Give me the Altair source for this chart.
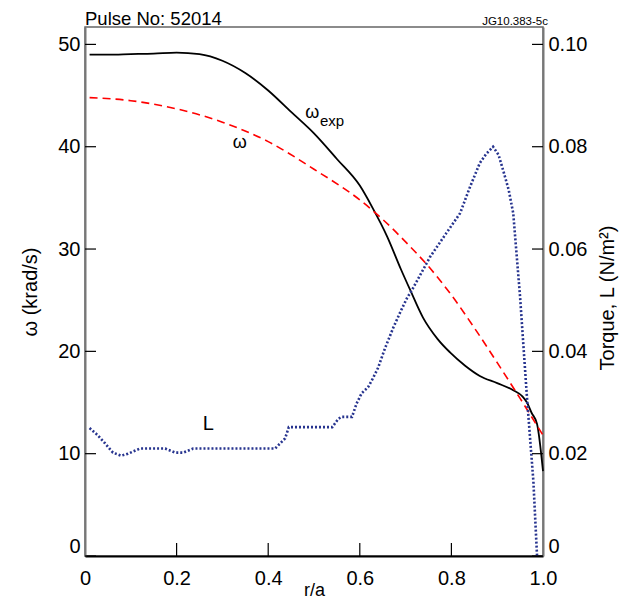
import altair as alt
import pandas as pd

# measured omega_exp (krad/s)
r_exp = [0.01, 0.05, 0.1, 0.15, 0.2, 0.25, 0.3, 0.35, 0.4, 0.45, 0.5, 0.55, 0.6, 0.627,
         0.66, 0.69, 0.71, 0.738, 0.77, 0.797, 0.83, 0.862, 0.9, 0.935, 0.955, 0.965,
         0.975, 0.987, 1.0]
w_exp = [49.0, 49.0, 49.05, 49.1, 49.2, 49.05, 48.4, 47.2, 45.5, 43.4, 41.3, 38.8, 36.2, 34.1,
         31.2, 28.0, 26.0, 23.3, 21.2, 19.9, 18.6, 17.6, 16.9, 16.2, 15.6, 15.0,
         14.0, 12.9, 8.3]

# modelled omega (krad/s)
r_w = [0.01, 0.1, 0.2, 0.3, 0.4, 0.5, 0.6, 0.65, 0.7, 0.75, 0.8, 0.85, 0.9, 0.95, 1.0]
w_model = [44.8, 44.5, 43.7, 42.4, 40.5, 37.8, 34.8, 32.9, 30.7, 28.3, 25.5, 22.3, 18.9, 15.4, 11.8]

# torque L (N/m^2)
r_L = [0.01, 0.028, 0.044, 0.061, 0.079, 0.094, 0.12, 0.175, 0.197, 0.214, 0.236, 0.415,
       0.437, 0.445, 0.54, 0.553, 0.56, 0.583, 0.593, 0.604, 0.618, 0.629, 0.64, 0.655,
       0.673, 0.688, 0.703, 0.714, 0.753, 0.785, 0.819, 0.84, 0.862, 0.876, 0.891, 0.903,
       0.913, 0.925, 0.935, 0.95, 0.965, 0.979, 0.987]
L_vals = [0.025, 0.0236, 0.022, 0.0202, 0.0196, 0.02, 0.021, 0.021, 0.0202, 0.0202, 0.021, 0.021,
          0.023, 0.0252, 0.0252, 0.0268, 0.0272, 0.0272, 0.0298, 0.0318, 0.033, 0.0348, 0.0368, 0.0406,
          0.0446, 0.0476, 0.0504, 0.052, 0.0584, 0.0626, 0.067, 0.072, 0.0768, 0.0786, 0.08, 0.0784,
          0.0754, 0.0716, 0.067, 0.0506, 0.031, 0.0146, 0.0]

left_ticks = [0, 10, 20, 30, 40, 50]
right_ticks = [0, 0.02, 0.04, 0.06, 0.08, 0.10]
x_ticks = [0, 0.2, 0.4, 0.6, 0.8, 1.0]

W, H = 458, 529
YMAX = 51.7
LMAX = YMAX / 500
FONT = "Liberation Sans"

xscale = alt.Scale(domain=[0, 1], nice=False)
yscale = alt.Scale(domain=[0, YMAX], nice=False)
lscale = alt.Scale(domain=[0, LMAX], nice=False)

xaxis = alt.Axis(values=x_ticks, labelExpr="datum.value == 0 ? '0' : format(datum.value, '.1f')",
                 ticks=False, tickSize=0, grid=False, labelFlush=False, labelPadding=12,
                 domainColor="black", domainWidth=2,
                 title="r/a", titleX=W / 2, titleY=34, titleBaseline="middle", titleAlign="center",
                 titleFontSize=18)
yaxis = alt.Axis(values=left_ticks, ticks=False, tickSize=0, grid=False, labelFlush=True,
                 labelFlushOffset=0, labelPadding=5, domainColor="#777", domainWidth=2,
                 title="ω (krad/s)", titleX=-55, titleY=H / 2, titleAngle=270,
                 titleBaseline="middle", titleAlign="center", titleFontSize=20)
raxis = alt.Axis(values=right_ticks, orient="right", ticks=False, tickSize=0, grid=False,
                 labelFlush=True, labelFlushOffset=0, labelPadding=5,
                 labelExpr="datum.value == 0 ? '0' : format(datum.value, '.2f')",
                 domainColor="#777", domainWidth=2,
                 title="Torque, L (N/m²)", titleX=64, titleY=H / 2 + 6, titleAngle=270,
                 titleBaseline="middle", titleAlign="center", titleFontSize=20)

df_exp = pd.DataFrame({"r": r_exp, "w": w_exp})
df_w = pd.DataFrame({"r": r_w, "w": w_model})
df_L = pd.DataFrame({"r": r_L, "L": L_vals})

black = alt.Chart(df_exp).mark_line(color="black", strokeWidth=1.8, interpolate="monotone").encode(
    x=alt.X("r:Q", scale=xscale, axis=xaxis),
    y=alt.Y("w:Q", scale=yscale, axis=yaxis),
)
red = alt.Chart(df_w).mark_line(color="#ff0000", strokeWidth=1.6, strokeDash=[8, 5],
                                interpolate="monotone").encode(
    x=alt.X("r:Q", scale=xscale, axis=xaxis),
    y=alt.Y("w:Q", scale=yscale, axis=yaxis),
)
lt = alt.Chart(pd.DataFrame({"w": left_ticks})).mark_rule(color="black", strokeWidth=1.2).encode(
    y=alt.Y("w:Q", scale=yscale, axis=yaxis), x=alt.value(0), x2=alt.value(11))
xt = alt.Chart(pd.DataFrame({"r": x_ticks[1:-1]})).mark_rule(color="black", strokeWidth=1.2).encode(
    x=alt.X("r:Q", scale=xscale, axis=xaxis), y=alt.value(H), y2=alt.value(H - 13))

lab = pd.DataFrame({"r": [0.338, 0.496, 0.269], "w": [40.4, 43.3, 12.9], "t": ["ω", "ω", "L"],
                    "s": [18, 18, 20]})
labels = alt.Chart(lab).mark_text(font=FONT, color="black", baseline="middle", align="center").encode(
    x=alt.X("r:Q", scale=xscale, axis=xaxis), y=alt.Y("w:Q", scale=yscale, axis=yaxis),
    text="t:N", size=alt.Size("s:Q", scale=None, legend=None))
sub = alt.Chart(pd.DataFrame({"r": [0.513], "w": [42.5], "t": ["exp"]})).mark_text(
    font=FONT, color="black", fontSize=15, baseline="middle", align="left").encode(
    x=alt.X("r:Q", scale=xscale, axis=xaxis), y=alt.Y("w:Q", scale=yscale, axis=yaxis), text="t:N")

title = alt.Chart(pd.DataFrame({"t": ["Pulse No: 52014"]})).mark_text(
    font=FONT, fontSize=18.5, align="left", baseline="alphabetic", color="black").encode(
    text="t:N", x=alt.value(0), y=alt.value(-2.5))
tag = alt.Chart(pd.DataFrame({"t": ["JG10.383-5c"]})).mark_text(
    font=FONT, fontSize=11.5, align="right", baseline="alphabetic", color="black").encode(
    text="t:N", x=alt.value(W + 5), y=alt.value(-2))

left = alt.layer(black, red, lt, xt, labels, sub, title, tag)

blue = alt.Chart(df_L).mark_line(color="#27348f", strokeWidth=2.6, strokeDash=[2, 2]).encode(
    x=alt.X("r:Q", scale=xscale, axis=xaxis),
    y=alt.Y("L:Q", scale=lscale, axis=raxis),
)
rt = alt.Chart(pd.DataFrame({"L": right_ticks})).mark_rule(color="black", strokeWidth=1.2).encode(
    y=alt.Y("L:Q", scale=lscale, axis=raxis), x=alt.value(W), x2=alt.value(W - 11))
right = alt.layer(blue, rt)

chart = alt.layer(left, right).resolve_scale(y="independent").properties(
    width=W, height=H,
    padding={"left": 77, "top": 19, "right": 76, "bottom": 46},
    autosize=alt.AutoSizeParams(type="none"),
).configure_view(stroke="#666", strokeWidth=1.5).configure_axis(
    labelFont=FONT, labelFontSize=20, labelColor="black",
    titleFont=FONT, titleFontWeight="normal", titleColor="black",
)

chart.save("out.html", embed_options={"renderer": "svg", "actions": False})
